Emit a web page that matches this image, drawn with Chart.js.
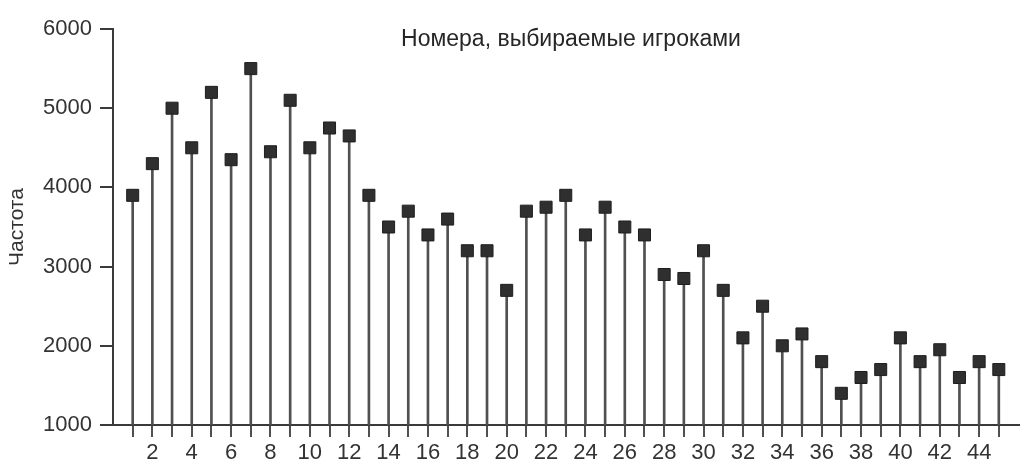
<!DOCTYPE html>
<html>
<head>
<meta charset="utf-8">
<script src="https://cdn.jsdelivr.net/npm/chart.js@4/dist/chart.umd.min.js"></script>
<style>
html,body{margin:0;padding:0;background:#fff;}
#wrap{width:1028px;height:467px;position:relative;}
</style>
</head>
<body>
<div id="wrap"><canvas id="c" width="1028" height="467"></canvas></div>
<script>
const chartTitle = "Номера, выбираемые игроками";
const yAxisTitle = "Частота";
const numbers = [1,2,3,4,5,6,7,8,9,10,11,12,13,14,15,16,17,18,19,20,21,22,23,24,25,26,27,28,29,30,31,32,33,34,35,36,37,38,39,40,41,42,43,44,45];
const frequency = [3900,4300,5000,4500,5200,4350,5500,4450,5100,4500,4750,4650,3900,3500,3700,3400,3600,3200,3200,2700,3700,3750,3900,3400,3750,3500,3400,2900,2850,3200,2700,2100,2500,2000,2150,1800,1400,1600,1700,2100,1800,1950,1600,1800,1700];
const xLabels = [2,4,6,8,10,12,14,16,18,20,22,24,26,28,30,32,34,36,38,40,42,44];
const yTicks = [1000,2000,3000,4000,5000,6000];

const pts = numbers.map((n,i)=>({x:n,y:frequency[i]}));
const FONT = "'Liberation Sans', Arial, sans-serif";

const titlePlugin = {
  id:'innerTitle',
  afterDraw(chart){
    const ctx = chart.ctx;
    ctx.save();
    ctx.font = "23px " + FONT;
    ctx.fillStyle = "#262626";
    ctx.textAlign = "center";
    ctx.textBaseline = "alphabetic";
    ctx.fillText(chartTitle, 571, 46);
    ctx.restore();
  }
};

new Chart(document.getElementById('c'), {
  type:'bar',
  data:{
    datasets:[
      {
        type:'scatter',
        data:pts,
        showLine:false,
        pointStyle:'rect',
        pointRadius:8.5,
        pointHoverRadius:8.5,
        backgroundColor:'#2f2f2f',
        borderColor:'#1e1e1e',
        borderWidth:1,
        order:0
      },
      {
        type:'bar',
        data:pts,
        backgroundColor:'#505050',
        barThickness:2,
        order:1
      }
    ]
  },
  options:{
    responsive:false,
    animation:false,
    events:[],
    layout:{padding:{left:0,right:8,top:29,bottom:0}},
    plugins:{legend:{display:false},tooltip:{enabled:false},title:{display:false}},
    scales:{
      x:{
        type:'linear',
        min:0,max:46,
        offset:false,
        afterFit(s){ s.height = 42; },
        border:{display:true,color:'#3a3a3a',width:2},
        grid:{
          offset:false,
          drawOnChartArea:false,
          drawTicks:true,
          tickLength:12,
          lineWidth:2,
          color:(c)=> (c.tick && c.tick.value>=1 && c.tick.value<=45) ? '#505050' : 'rgba(0,0,0,0)'
        },
        afterBuildTicks(s){ s.ticks = numbers.map(v=>({value:v})); },
        ticks:{
          autoSkip:false,
          maxRotation:0,
          padding:3,
          color:'#333',
          font:{family:FONT,size:22},
          callback:(v)=> xLabels.includes(v) ? String(v) : ''
        }
      },
      y:{
        min:1000,max:6000,
        afterFit(s){ s.width = 113; },
        afterBuildTicks(s){ s.ticks = yTicks.map(v=>({value:v})); },
        border:{display:true,color:'#3a3a3a',width:2},
        grid:{drawOnChartArea:false,drawTicks:true,tickLength:13,lineWidth:2,color:'#3a3a3a'},
        ticks:{color:'#333',padding:8,font:{family:FONT,size:22},callback:(v)=>String(v)},
        title:{display:true,text:yAxisTitle,color:'#333',font:{family:FONT,size:21},padding:{top:5,bottom:0}}
      }
    }
  },
  plugins:[titlePlugin]
});
</script>
</body>
</html>
